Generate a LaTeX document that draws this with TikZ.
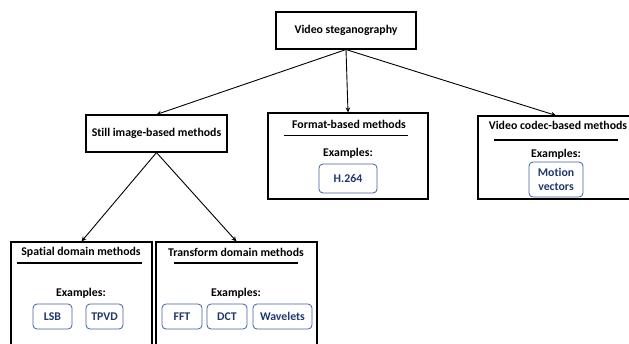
\documentclass[tikz,border=0pt]{standalone}
\usepackage{fontspec}
\setmainfont{Carlito}[Ligatures=NoCommon]
\usetikzlibrary{arrows.meta,positioning}

\definecolor{exborder}{RGB}{60,96,160}
\definecolor{extext}{RGB}{31,56,110}

\begin{document}
\begin{tikzpicture}[
    x=1pt, y=-1pt,
    >={Stealth[length=5pt,width=4.5pt]},
    font=\fontsize{11.8}{14.3}\selectfont\bfseries,
    topic/.style={
        rectangle,
        draw=black,
        line width=1.1pt,
        minimum width=#1,
        minimum height=37pt,
        inner sep=0pt
    },
    family/.style 2 args={
        rectangle,
        draw=black,
        line width=1.1pt,
        minimum width=#1,
        minimum height=#2,
        inner sep=0pt
    },
    example/.style={
        rectangle,
        rounded corners=4pt,
        draw=exborder,
        line width=0.8pt,
        text=extext,
        minimum width=#1,
        minimum height=25pt,
        inner sep=0pt,
        align=center
    },
    rule/.style={line width=1.1pt},
    link/.style={->, line width=0.9pt}
]

% page frame (boxes run off the bottom and right edges)
\clip (0,0) rectangle (629,343);

% Root
\node[topic=140pt] (root) at (346,30.5) {Video steganography};

% Second level
\node[topic=141pt] (still) at (156.5,133.5) {Still image-based methods};

\node[family={160pt}{86pt}] (format) at (348,156) {};
\node (formattitle) at (349,124) {Format-based methods};
\draw[rule] (284,135.7) -- (408,135.7);
\node (formatex) at (348,153) {Examples:};
\node[example=58pt, minimum height=29pt] (h264) at (348,178.5) {H.264};

\node[family={156pt}{83pt}] (codec) at (556,157.5) {};
\node (codectitle) at (558,125) {Video codec-based methods};
\draw[rule] (494,140) -- (618,140);
\node (codecex) at (556,154) {Examples:};
\node[example=54pt, minimum height=35pt] (motion) at (556,179.5) {Motion\\vectors};

% Third level
\node[family={141pt}{138pt}] (spatial) at (81.5,311) {};
\node (spatialtitle) at (81,252) {Spatial domain methods};
\draw[rule] (17,263) -- (142,263);
\node (spatialex) at (81,293) {Examples:};
\node[example=39pt] (lsb) at (52.5,316.5) {LSB};
\node[example=37pt] (tpvd) at (104.5,316.5) {TPVD};

\node[family={161pt}{138pt}] (transform) at (236.5,311) {};
\node (transformtitle) at (236,252) {Transform domain methods};
\draw[rule] (174,263) -- (298,263);
\node (transformex) at (236,293) {Examples:};
\node[example=40pt] (fft) at (182,316.5) {FFT};
\node[example=40pt] (dct) at (227,316.5) {DCT};
\node[example=59pt] (wavelets) at (282.5,316.5) {Wavelets};

% Connectors
\draw[link] (root.south) -- (still.north);
\draw[link] (root.south) -- (format.north);
\draw[link] (root.south) -- (codec.north);
\draw[link] (still.south) -- (spatial.north);
\draw[link] (still.south) -- (transform.north);

\end{tikzpicture}
\end{document}
